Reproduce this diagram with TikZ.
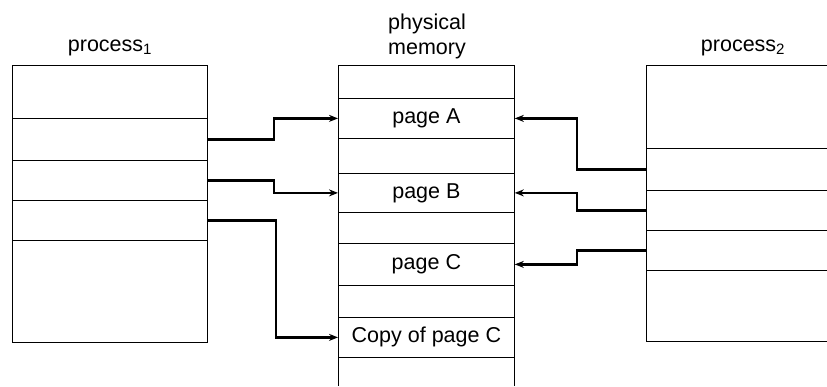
\documentclass[tikz,border=0pt]{standalone}
\usepackage{fontspec}
\setmainfont{Liberation Sans}
\usetikzlibrary{arrows.meta}
\begin{document}
\begin{tikzpicture}[x=1pt,y=-1pt,
  font=\fontsize{21.5}{25}\selectfont,
  boxline/.style={draw=black,line width=0.8pt},
  slot/.style={draw=black,line width=0.8pt,rectangle,inner sep=0pt,anchor=north west,minimum width=#1},
  conn/.style={line width=2.3pt,-{Stealth[length=9pt,width=7pt]}},
  lbl/.style={inner sep=0pt,align=center}]
\clip (0,0) rectangle (827,387);
% ---------- process 1 ----------
\node[lbl] (t1) at (110,48) {process\textsubscript{1}};
\node[slot=195,minimum height=53] (p1top) at (12,65) {};
\node[slot=195,minimum height=42] (p1a) at (12,118) {};
\node[slot=195,minimum height=40] (p1b) at (12,160) {};
\node[slot=195,minimum height=40] (p1c) at (12,200) {};
\node[slot=195,minimum height=102] (p1bot) at (12,240) {};
% ---------- physical memory ----------
\node[lbl] (tm) at (427,36) {physical\\memory};
\node[slot=176,minimum height=33] (m0) at (338,65) {};
\node[slot=176,minimum height=40] (mA) at (338,98) {page A};
\node[slot=176,minimum height=35] (m1) at (338,138) {};
\node[slot=176,minimum height=39] (mB) at (338,173) {page B};
\node[slot=176,minimum height=31] (m2) at (338,212) {};
\node[slot=176,minimum height=42] (mC) at (338,243) {page C};
\node[slot=176,minimum height=32] (m3) at (338,285) {};
\node[slot=176,minimum height=40] (mD) at (338,317) {Copy of page C};
\node[slot=176,minimum height=28,draw=none] (m4) at (338,357) {};
\draw[boxline] (m4.north west) -- (m4.south west);
\draw[boxline] (m4.north east) -- (m4.south east);
% ---------- process 2 ----------
\node[lbl] (t2) at (743,48) {process\textsubscript{2}};
\node[slot=200,minimum height=83] (p2top) at (646,65) {};
\node[slot=200,minimum height=42] (p2a) at (646,148) {};
\node[slot=200,minimum height=40] (p2b) at (646,190) {};
\node[slot=200,minimum height=40] (p2c) at (646,230) {};
\node[slot=200,minimum height=71] (p2bot) at (646,270) {};
% ---------- connectors ----------
\draw[conn] (p1a.east) -- ++(66,0) |- (mA.west);
\draw[conn] (p1b.east) -- ++(66,0) |- (mB.west);
\draw[conn] (p1c.east) -- ++(68,0) |- (mD.west);
\draw[conn] (p2a.west) -- ++(-69,0) |- (mA.east);
\draw[conn] (p2b.west) -- ++(-69,0) |- (mB.east);
\draw[conn] (p2c.west) -- ++(-69,0) |- (mC.east);
\end{tikzpicture}
\end{document}
